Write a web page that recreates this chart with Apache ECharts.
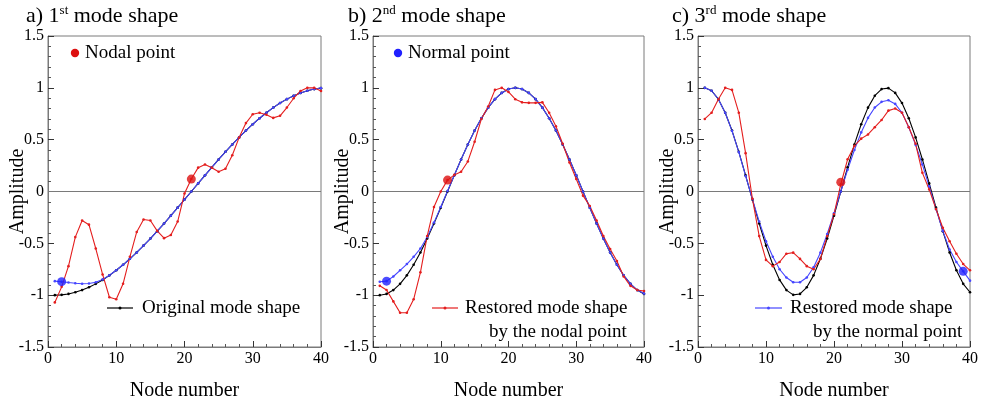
<!DOCTYPE html>
<html><head><meta charset="utf-8">
<script src="https://cdn.jsdelivr.net/npm/echarts@6/dist/echarts.min.js"></script>
<style>html,body{margin:0;padding:0;background:#fff}#c{width:981px;height:396px}</style>
</head><body><div id="c"></div>
<script>
const nodes = [1,2,3,4,5,6,7,8,9,10,11,12,13,14,15,16,17,18,19,20,21,22,23,24,25,26,27,28,29,30,31,32,33,34,35,36,37,38,39,40];

const mode1Original = [-1,-0.997,-0.988,-0.972,-0.951,-0.924,-0.891,-0.853,-0.809,-0.760,-0.707,-0.649,-0.588,-0.522,-0.454,-0.383,-0.309,-0.233,-0.156,-0.078,0,0.078,0.156,0.233,0.309,0.383,0.454,0.522,0.588,0.649,0.707,0.760,0.809,0.853,0.891,0.924,0.951,0.972,0.988,0.997];
const mode1Normal = [-0.865,-0.87,-0.878,-0.885,-0.89,-0.888,-0.875,-0.848,-0.808,-0.76,-0.707,-0.649,-0.588,-0.522,-0.454,-0.383,-0.309,-0.233,-0.156,-0.078,0,0.078,0.156,0.233,0.309,0.383,0.454,0.522,0.588,0.649,0.707,0.760,0.809,0.853,0.891,0.924,0.951,0.972,0.988,0.997];
const mode1Nodal = [-1.07,-0.92,-0.72,-0.44,-0.28,-0.32,-0.55,-0.80,-1.02,-1.04,-0.89,-0.63,-0.39,-0.27,-0.28,-0.38,-0.45,-0.42,-0.29,-0.02,0.12,0.23,0.26,0.23,0.19,0.22,0.35,0.52,0.66,0.745,0.76,0.74,0.71,0.73,0.81,0.9,0.97,1.0,1.0,0.97];

const mode2Original = [-1,-0.988,-0.951,-0.891,-0.809,-0.707,-0.588,-0.454,-0.309,-0.156,0,0.156,0.309,0.454,0.588,0.707,0.809,0.891,0.951,0.988,1,0.988,0.951,0.891,0.809,0.707,0.588,0.454,0.309,0.156,0,-0.156,-0.309,-0.454,-0.588,-0.707,-0.809,-0.891,-0.951,-0.988];
const mode2Normal = [-0.87,-0.865,-0.82,-0.76,-0.70,-0.63,-0.55,-0.44,-0.30,-0.15,0.005,0.156,0.309,0.454,0.588,0.707,0.809,0.891,0.951,0.988,1,0.988,0.951,0.891,0.809,0.707,0.588,0.454,0.309,0.156,0,-0.156,-0.309,-0.454,-0.588,-0.707,-0.809,-0.891,-0.951,-0.985];
const mode2Nodal = [-0.91,-0.95,-1.06,-1.17,-1.17,-1.04,-0.78,-0.43,-0.15,0.0,0.11,0.16,0.19,0.29,0.48,0.70,0.82,0.98,1.0,0.96,0.89,0.86,0.855,0.855,0.86,0.76,0.63,0.46,0.28,0.12,-0.04,-0.14,-0.28,-0.43,-0.555,-0.67,-0.82,-0.91,-0.95,-0.96];

const mode3Original = [1,0.972,0.891,0.760,0.588,0.383,0.156,-0.078,-0.309,-0.522,-0.707,-0.853,-0.951,-0.997,-0.988,-0.924,-0.809,-0.649,-0.454,-0.233,0,0.233,0.454,0.649,0.809,0.924,0.988,0.997,0.951,0.853,0.707,0.522,0.309,0.078,-0.156,-0.383,-0.588,-0.760,-0.891,-0.972];
const mode3Normal = [1,0.972,0.89,0.76,0.585,0.38,0.15,-0.075,-0.29,-0.48,-0.63,-0.75,-0.83,-0.875,-0.875,-0.83,-0.73,-0.59,-0.41,-0.21,0.0,0.21,0.40,0.57,0.71,0.81,0.865,0.88,0.845,0.76,0.62,0.45,0.26,0.05,-0.17,-0.38,-0.56,-0.68,-0.77,-0.86];
const mode3Nodal = [0.70,0.76,0.89,1.0,0.98,0.76,0.37,-0.07,-0.43,-0.66,-0.72,-0.68,-0.60,-0.59,-0.65,-0.72,-0.75,-0.65,-0.43,-0.22,0.07,0.31,0.44,0.51,0.55,0.62,0.69,0.78,0.80,0.76,0.62,0.46,0.18,0.02,-0.17,-0.35,-0.48,-0.60,-0.70,-0.76];

const nodalPoints = [[21,0.12],[11,0.11],[21,0.09]];
const normalPoints = [[2,-0.87],[2,-0.865],[39,-0.77]];

const panelOrdinals = ['1','2','3'];
const panelSuffix = ['st','nd','rd'];
const panelLetters = ['a)','b)','c)'];

const FONT = '"Liberation Serif","Times New Roman",serif';
const RED = '#e41e1e', BLUE = '#4646ff', BLACK = '#000000', GREY = '#7a7a7a';

const originals = [mode1Original, mode2Original, mode3Original];
const normals = [mode1Normal, mode2Normal, mode3Normal];
const nodals = [mode1Nodal, mode2Nodal, mode3Nodal];

const gridPos = [
  {left:48, top:36, width:273, height:311},
  {left:373, top:36, width:271, height:311},
  {left:698, top:36, width:272, height:311}
];
const titleLeft = [26, 348, 672];

const pair = arr => arr.map((v,i) => [nodes[i], v]);

const grids = gridPos.map(g => Object.assign({show:true, borderColor:GREY, borderWidth:1, backgroundColor:'transparent', outerBoundsMode:'none', containLabel:false}, g));

const xAxes = gridPos.map((g,i) => ({
  type:'value', gridIndex:i, min:0, max:40, interval:10,
  name:'Node number', nameLocation:'middle', nameGap:34, nameMoveOverlap:false,
  nameTextStyle:{fontFamily:FONT, fontSize:20, color:'#000'},
  axisLine:{show:true, onZero:false, lineStyle:{color:GREY, width:1}},
  axisTick:{show:true, inside:true, length:6, lineStyle:{color:'#333'}},
  minorTick:{show:true, splitNumber:5, length:3, lineStyle:{color:'#555'}},
  axisLabel:{fontFamily:FONT, fontSize:16, color:'#000', margin:4},
  splitLine:{show:false}
}));
const yAxes = gridPos.map((g,i) => ({
  type:'value', gridIndex:i, min:-1.5, max:1.5, interval:0.5,
  name:'Amplitude', nameLocation:'middle', nameGap:20, nameMoveOverlap:false,
  nameTextStyle:{fontFamily:FONT, fontSize:20, color:'#000'},
  axisLine:{show:true, onZero:false, lineStyle:{color:GREY, width:1}},
  axisTick:{show:true, inside:true, length:6, lineStyle:{color:'#333'}},
  minorTick:{show:true, splitNumber:5, length:3, lineStyle:{color:'#555'}},
  axisLabel:{fontFamily:FONT, fontSize:16, color:'#000', margin:4},
  splitLine:{show:false}
}));

const series = [];
for (let i = 0; i < 3; i++) {
  const lineBase = (name, data, color) => ({
    name, type:'line', xAxisIndex:i, yAxisIndex:i, data:pair(data),
    symbol:'circle', symbolSize:2.6, showSymbol:true,
    lineStyle:{color, width:1.1}, itemStyle:{color},
    silent:true, animation:false, z:2
  });
  const black = lineBase('Original mode shape', originals[i], BLACK);
  black.markLine = {
    silent:true, symbol:['none','none'], label:{show:false},
    lineStyle:{color:GREY, width:1, type:'solid'},
    data:[{yAxis:0}], z:1
  };
  series.push(black);
  series.push(lineBase('Restored (normal point)', normals[i], BLUE));
  series.push(lineBase('Restored (nodal point)', nodals[i], RED));
  series.push({type:'scatter', xAxisIndex:i, yAxisIndex:i, data:[nodalPoints[i]],
    symbol:'circle', symbolSize:9, itemStyle:{color:'#dd1010'}, silent:true, animation:false, z:5});
  series.push({type:'scatter', xAxisIndex:i, yAxisIndex:i, data:[normalPoints[i]],
    symbol:'circle', symbolSize:9, itemStyle:{color:'#2020ff'}, silent:true, animation:false, z:5});
}

const titles = [0,1,2].map(i => ({
  text:'{m|' + panelLetters[i] + ' ' + panelOrdinals[i] + '}{s|' + panelSuffix[i] + '}{m| mode shape}',
  left:titleLeft[i], top:1, padding:0,
  textStyle:{fontWeight:'normal', rich:{
    m:{fontFamily:FONT, fontSize:22, fontWeight:'normal', color:'#000', lineHeight:26, verticalAlign:'bottom'},
    s:{fontFamily:FONT, fontSize:13, fontWeight:'normal', color:'#000', lineHeight:26, verticalAlign:'top', padding:[3,0,0,0]}
  }}
}));

const txt = (x, y, text) => ({type:'text', x, y, silent:true,
  style:{text, font:'19px ' + FONT, fill:'#000', verticalAlign:'middle', align:'left'}});
const legendLine = (x1, x2, y, color) => ({type:'group', silent:true, children:[
  {type:'line', shape:{x1, y1:y, x2, y2:y}, style:{stroke:color, lineWidth:1.2}},
  {type:'circle', shape:{cx:(x1+x2)/2, cy:y, r:1.5}, style:{fill:color}}
]});
const legendDot = (cx, cy, color) => ({type:'circle', silent:true, shape:{cx, cy, r:4.2}, style:{fill:color}});

const graphic = [
  legendDot(75, 53, '#dd1010'), txt(85, 53, 'Nodal point'),
  legendLine(107, 133, 308, BLACK), txt(142, 308, 'Original mode shape'),
  legendDot(398, 53, '#2020ff'), txt(408, 53, 'Normal point'),
  legendLine(432, 458, 308, RED), txt(465, 308, 'Restored mode shape'), txt(489, 332, 'by the nodal point'),
  legendLine(755, 782, 308, BLUE), txt(790, 308, 'Restored mode shape'), txt(813, 332, 'by the normal point')
];

const chart = echarts.init(document.getElementById('c'), null, {renderer:'canvas'});
chart.setOption({
  backgroundColor:'#fff', animation:false,
  title:titles, grid:grids, xAxis:xAxes, yAxis:yAxes, series, graphic,
  tooltip:{show:false}
});
</script></body></html>
